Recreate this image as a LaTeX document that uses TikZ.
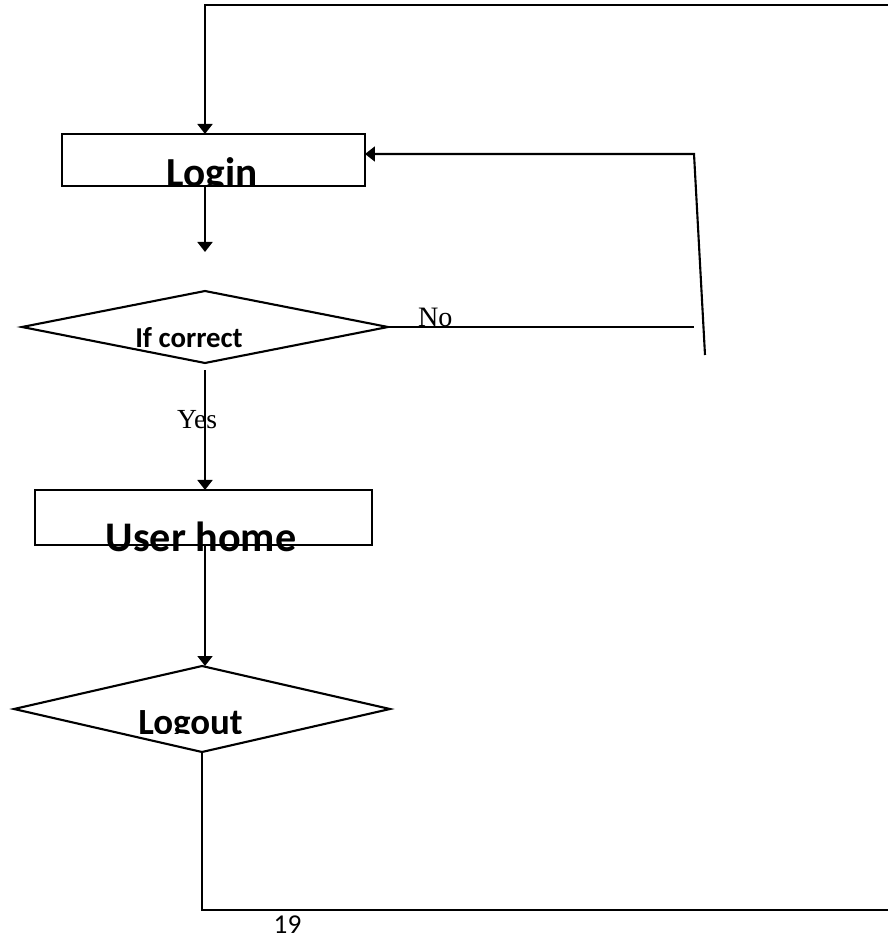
\documentclass[tikz,border=0pt]{standalone}
\usepackage{fontspec}
\setmainfont{Liberation Serif}
\newfontfamily\calibri{Carlito}
\usetikzlibrary{shapes.geometric,arrows.meta}

\begin{document}
\begin{tikzpicture}[x=0.02cm,y=-0.02cm,line width=1.2pt,
  box/.style={draw,rectangle,inner sep=0pt,outer sep=0pt},
  decision/.style={draw,diamond,inner sep=0pt,outer sep=0pt},
  title/.style={inner sep=0pt,anchor=base},
  arr/.style={-{Triangle[length=5.7pt,width=8.5pt]}}]

\useasboundingbox (0,0) rectangle (888,939);

% shapes
\node[box,minimum width=6.06cm,minimum height=1.04cm] (login) at (213.5,160) {};
\node[decision,minimum width=7.32cm,minimum height=1.44cm] (check) at (205,327) {};
\node[box,minimum width=6.74cm,minimum height=1.1cm] (home) at (203.5,517.5) {};
\node[decision,minimum width=7.52cm,minimum height=1.72cm] (logout) at (202,709) {};

% texts
\begin{scope}
\clip (login.south west) rectangle (login.north east);
\node[title,font=\calibri\bfseries\fontsize{23.5}{27}\selectfont] (logintxt) at (212,187) {Login};
\end{scope}
\node[title,font=\calibri\bfseries\fontsize{16.4}{20}\selectfont] (checktxt) at (189,347) {If correct};
\node[title,font=\calibri\bfseries\fontsize{24}{28}\selectfont] (hometxt) at (201,551) {User home};
\begin{scope}
\clip (logout.west |- logout.north) rectangle (logout.east |- 0,733);
\node[title,font=\calibri\bfseries\fontsize{21}{25}\selectfont] (logouttxt) at (190.5,734) {Logout};
\end{scope}

\node[title,anchor=base west,font=\fontsize{16}{19}\selectfont] (no) at (417,326) {No};
\node[title,anchor=base west,font=\fontsize{15.7}{19}\selectfont] (yes) at (176,428) {Yes};
\node[title,font=\calibri\fontsize{15.5}{19}\selectfont] (page) at (287.5,933) {19};

% helper points
\coordinate (tr) at (888,5);
\coordinate (tl) at (205,5);
\coordinate (down) at (205,252);
\coordinate (nr) at (694,327);
\coordinate (ret1) at (694,154);
\coordinate (ret2) at (705,355);
\coordinate (br) at (888,910);

% connectors
\draw[arr] (tr) -- (tl) -- (tl |- login.north);
\draw[arr] (tl |- login.south) -- (down);
\draw (check.east) -- (nr);
\draw[arr] (ret2) -- (ret1) -- (ret1 -| login.east);
\draw[arr] ([yshift=-4]check.south) -- (check.south |- home.north);
\draw[arr] (home.south -| check.south) -- (check.south |- logout.north);
\draw (logout.south) |- (br);

\end{tikzpicture}
\end{document}
